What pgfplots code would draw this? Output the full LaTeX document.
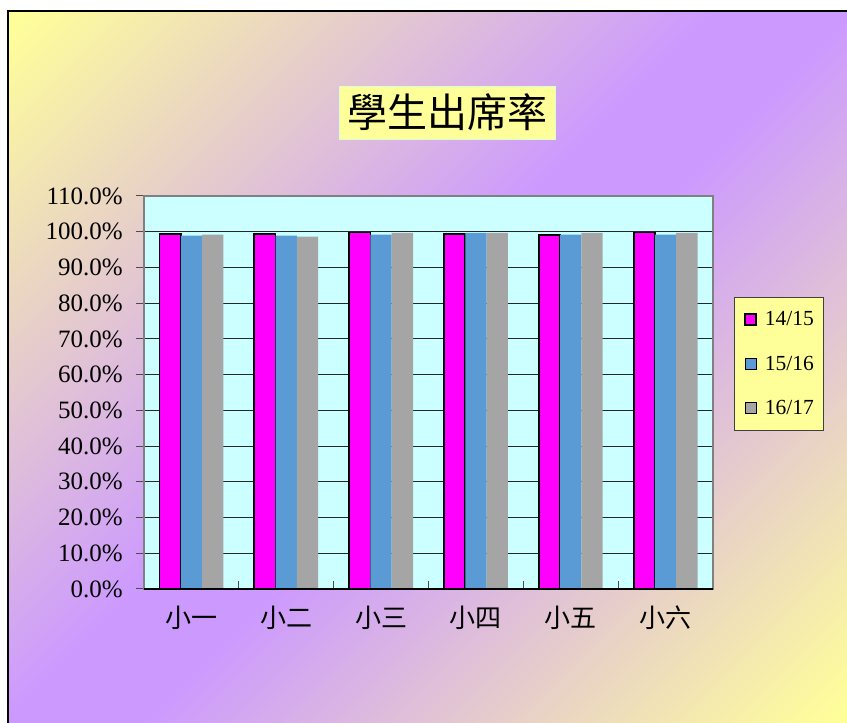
\documentclass[border=0pt]{standalone}
\usepackage{fontspec}
\setmainfont{Liberation Serif}
\newfontfamily\cjk{Noto Sans CJK TC}
\usepackage{pgfplots}
\pgfplotsset{compat=1.18}

\definecolor{yel}{HTML}{FFFF99}
\definecolor{pur}{HTML}{CC99FF}
\definecolor{plotbg}{HTML}{CCFFFF}
\definecolor{mag}{HTML}{FF00FF}
\definecolor{blu}{HTML}{5B9BD5}
\definecolor{gry}{HTML}{A5A5A5}

\pgfdeclareverticalshading{bgshade}{100bp}{color(0bp)=(yel); color(15bp)=(yel);
  color(47bp)=(pur); color(53bp)=(pur); color(85bp)=(yel); color(100bp)=(yel)}

\begin{document}
\begin{tikzpicture}[x=1pt,y=1pt]
  % page and chart background
  \fill[white] (0,0) rectangle (847,723);
  \path[use as bounding box] (0,0) rectangle (847,723);
  \shade[shading=bgshade, shading angle=45] (8,0) rectangle (847,712);
  \draw[black, line width=1.2pt] (8,0) -- (8,712) -- (847,712);

  % title
  \node[fill=yel, draw=green!15, minimum width=216pt, minimum height=53pt, inner sep=0pt,
        font=\cjk\fontsize{40}{40}\selectfont] at (447,610.5) {學生出席率};

  \begin{axis}[
      at={(144pt,134pt)}, anchor=south west,
      width=569pt, height=393pt, scale only axis,
      ybar=0pt, bar width=21.3pt,
      xmin=-0.5, xmax=5.5, ymin=0, ymax=110,
      axis background/.style={fill=plotbg},
      axis line style={draw=black!50, line width=1.5pt},
      xtick={0.5,1.5,2.5,3.5,4.5}, xticklabels={},
      extra x ticks={0,1,2,3,4,5},
      extra x tick labels={小一,小二,小三,小四,小五,小六},
      extra x tick style={major tick length=0pt, tick style={draw=none}},
      x tick label style={font=\cjk\fontsize{26}{26}\selectfont, yshift=-13pt},
      ytick={0,10,...,110},
      yticklabel={\pgfmathprintnumber[fixed,fixed zerofill,precision=1]{\tick}\%},
      y tick label style={font=\fontsize{25}{25}\selectfont, inner xsep=0pt, xshift=-13pt},
      /pgf/number format/assume math mode=true,
      xtick align=inside, ytick align=outside,
      major tick length=8pt,
      xtick pos=lower, ytick pos=left,
      tick style={black!70, line width=1pt},
      ymajorgrids, grid style={black!85, line width=1pt},
      legend image code/.code={\draw[#1] (0pt,-5.5pt) rectangle (11pt,5.5pt);},
      legend style={at={(1.0369,0.743)}, anchor=north west,
        fill=yel, draw=black!75, line width=1pt,
        font=\fontsize{21.5}{21.5}\selectfont,
        inner xsep=10pt, inner ysep=13.5pt,
        nodes={inner sep=0pt, text height=15pt, text depth=2pt},
        row sep=27.5pt,
        /tikz/every odd column/.append style={column sep=7.7pt}},
      legend cell align=left,
      after end axis/.code={\draw[black, line width=1.5pt] (rel axis cs:0,0) -- (rel axis cs:1,0);},
    ]
    \addplot[fill=mag, draw=black, line width=1.8pt] coordinates
      {(0,99.4) (1,99.4) (2,99.8) (3,99.4) (4,99.1) (5,99.8)};
    \addplot[fill=blu, draw=none] coordinates
      {(0,98.9) (1,98.9) (2,99.2) (3,99.7) (4,99.2) (5,99.2)};
    \addplot[fill=gry, draw=none] coordinates
      {(0,99.2) (1,98.6) (2,99.7) (3,99.7) (4,99.7) (5,99.7)};
    \legend{14/15,15/16,16/17}
  \end{axis}
\end{tikzpicture}
\end{document}
